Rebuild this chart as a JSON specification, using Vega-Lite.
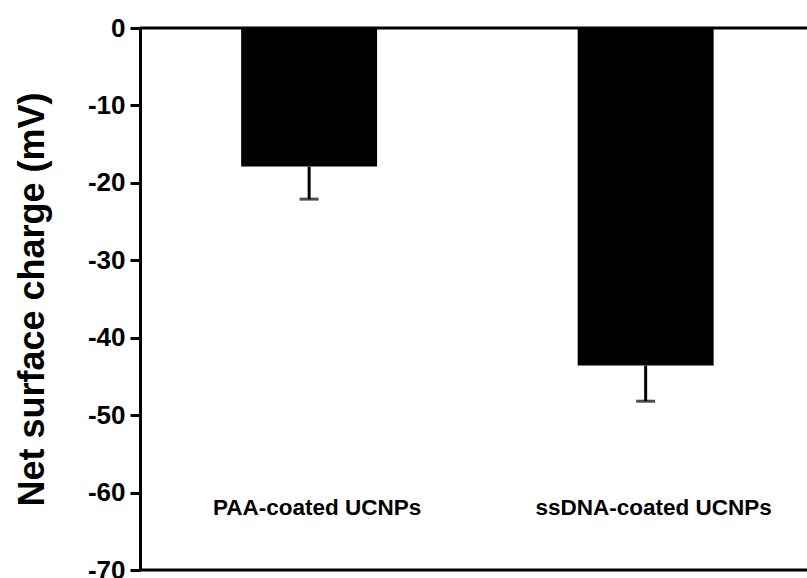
{
  "$schema": "https://vega.github.io/schema/vega-lite/v6.json",
  "width": 667,
  "height": 542,
  "autosize": {"type": "none"},
  "padding": {"left": 140, "top": 28, "right": 0, "bottom": 8},
  "background": "white",
  "config": {"view": {"stroke": null}, "font": "Liberation Sans"},
  "data": {
    "values": [
      {"group": "PAA-coated UCNPs", "charge": -17.9, "low": -22.1},
      {"group": "ssDNA-coated UCNPs", "charge": -43.6, "low": -48.2}
    ]
  },
  "encoding": {
    "x": {
      "field": "group",
      "type": "nominal",
      "sort": null,
      "scale": {"paddingInner": 0.596, "paddingOuter": 0.289, "align": 0.52},
      "axis": null
    }
  },
  "layer": [
    {
      "mark": {"type": "bar", "color": "black"},
      "encoding": {
        "y": {
          "field": "charge",
          "type": "quantitative",
          "scale": {"domain": [-70, 0], "nice": false},
          "axis": {
            "values": [-70, -65, -60, -55, -50, -45, -40, -35, -30, -25, -20, -15, -10, -5, 0],
            "labelExpr": "datum.value % 10 === 0 ? '' + datum.value : ''",
            "labelFontSize": 26,
            "labelFontWeight": "bold",
            "labelColor": "black",
            "labelPadding": 5,
            "labelFlush": false,
            "labelOverlap": false,
            "domainColor": "black",
            "domainWidth": 3,
            "tickColor": "black",
            "tickWidth": 3,
            "tickSize": {"condition": {"test": "datum.value % 10 === 0", "value": 10}, "value": 5},
            "grid": false,
            "title": "Net surface charge (mV)",
            "titleFontSize": 36,
            "titleFontWeight": "bold",
            "titleColor": "black",
            "titleAngle": -90,
            "titleAlign": "center",
            "titleBaseline": "alphabetic",
            "titleX": -97,
            "titleY": 271
          }
        }
      }
    },
    {
      "mark": {"type": "rule", "strokeWidth": 3, "color": "black"},
      "encoding": {
        "y": {"field": "charge", "type": "quantitative"},
        "y2": {"field": "low"}
      }
    },
    {
      "mark": {"type": "tick", "color": "black", "thickness": 3, "size": 19, "orient": "horizontal"},
      "encoding": {
        "y": {"field": "low", "type": "quantitative"}
      }
    },
    {
      "mark": {"type": "text", "fontSize": 22.5, "fontWeight": "bold", "dx": 8, "baseline": "middle", "color": "black"},
      "encoding": {
        "y": {"datum": -62, "type": "quantitative"},
        "text": {"field": "group"}
      }
    },
    {
      "data": {"values": [{"edge": 0}, {"edge": -70}]},
      "mark": {"type": "rule", "strokeWidth": 3, "color": "black"},
      "encoding": {
        "x": null,
        "y": {"field": "edge", "type": "quantitative"}
      }
    }
  ]
}
